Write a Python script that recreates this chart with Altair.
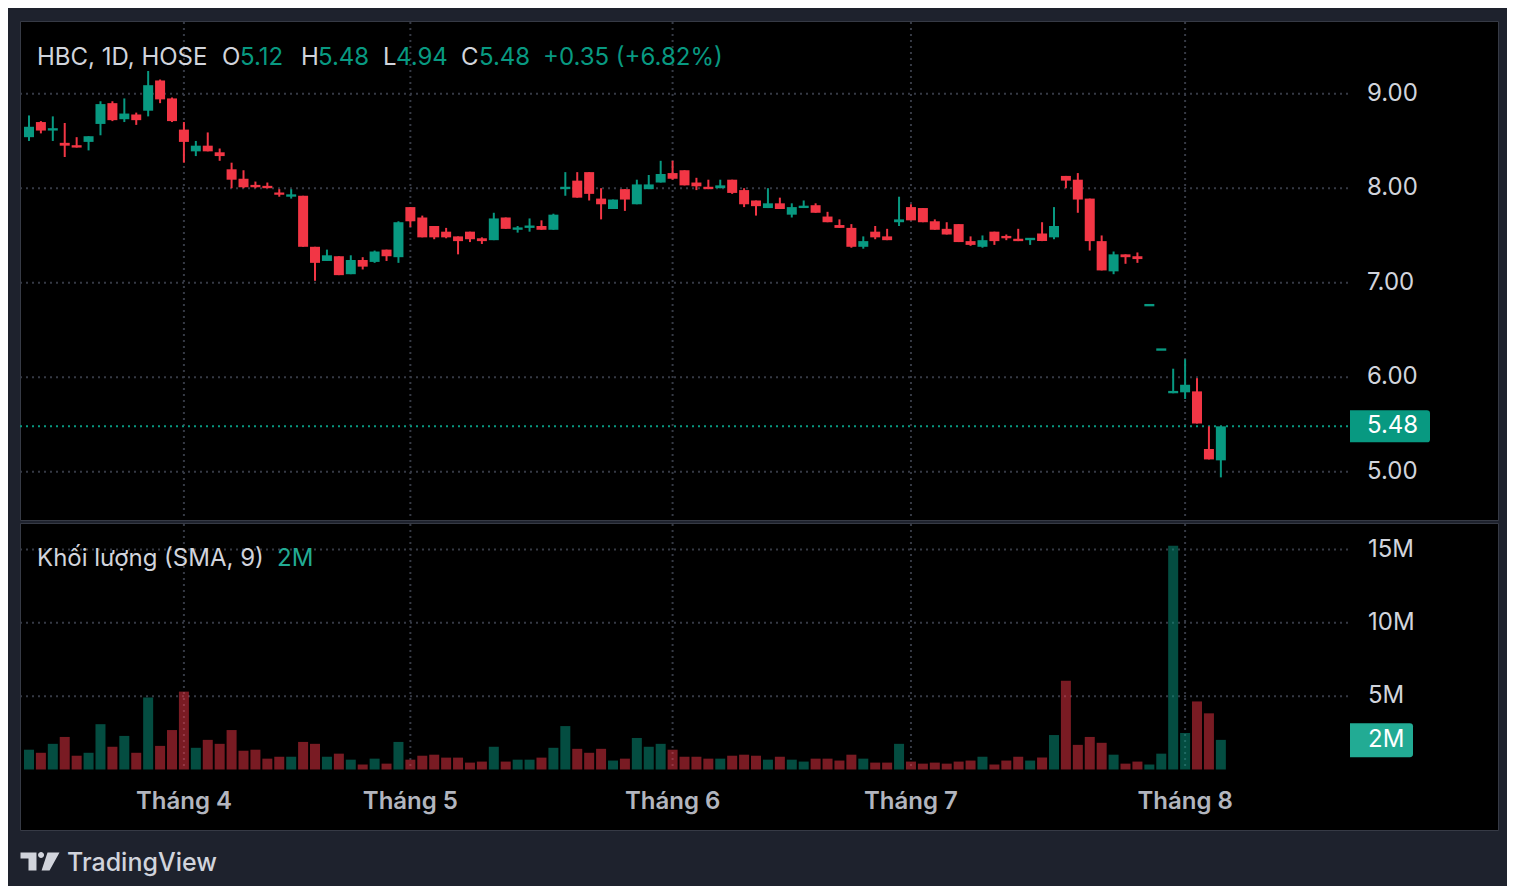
import altair as alt
import pandas as pd

# ---------------- data ----------------
opens = [8.54, 8.70, 8.61, 8.48, 8.45, 8.49, 8.68, 8.90, 8.73, 8.78,
         8.82, 9.14, 8.95, 8.62, 8.39, 8.45, 8.38, 8.20, 8.10, 8.03,
         8.02, 7.95, 7.91, 7.92, 7.38, 7.23, 7.28, 7.09, 7.24, 7.22,
         7.35, 7.27, 7.80, 7.69, 7.60, 7.54, 7.49, 7.54, 7.47, 7.45,
         7.69, 7.56, 7.58, 7.60, 7.56, 7.99, 8.08, 8.17, 7.89, 7.78,
         7.99, 7.83, 7.99, 8.06, 8.16, 8.19, 8.06, 8.01, 8.00, 8.09,
         7.98, 7.87, 7.79, 7.84, 7.72, 7.79, 7.82, 7.70, 7.61, 7.58,
         7.38, 7.54, 7.49, 7.64, 7.80, 7.79, 7.65, 7.57, 7.62, 7.44,
         7.38, 7.54, 7.49, 7.45, 7.45, 7.52, 7.48, 8.13, 8.09, 7.89,
         7.44, 7.12, 7.30, 7.28, 6.75, 6.28, 5.83, 5.84, 5.85, 5.24,
         5.12]
highs = [8.77, 8.71, 8.76, 8.69, 8.54, 8.55, 8.92, 8.92, 8.95, 8.80,
         9.24, 9.15, 8.96, 8.70, 8.50, 8.59, 8.42, 8.27, 8.19, 8.07,
         8.06, 7.99, 7.99, 7.92, 7.38, 7.35, 7.28, 7.29, 7.27, 7.34,
         7.35, 7.65, 7.80, 7.71, 7.60, 7.58, 7.49, 7.54, 7.48, 7.74,
         7.69, 7.60, 7.68, 7.66, 7.73, 8.17, 8.17, 8.17, 8.00, 7.88,
         7.99, 8.09, 8.14, 8.29, 8.29, 8.19, 8.11, 8.09, 8.09, 8.09,
         8.00, 7.87, 8.00, 7.90, 7.84, 7.87, 7.84, 7.75, 7.67, 7.62,
         7.49, 7.60, 7.57, 7.91, 7.83, 7.79, 7.67, 7.64, 7.62, 7.49,
         7.50, 7.54, 7.51, 7.57, 7.47, 7.64, 7.80, 8.13, 8.16, 7.89,
         7.50, 7.33, 7.30, 7.32, 6.75, 6.28, 6.09, 6.19, 5.99, 5.48,
         5.48]
lows = [8.50, 8.58, 8.50, 8.33, 8.43, 8.40, 8.56, 8.71, 8.70, 8.67,
        8.76, 8.90, 8.70, 8.27, 8.34, 8.39, 8.29, 8.00, 8.00, 8.00,
        8.00, 7.91, 7.89, 7.38, 7.02, 7.23, 7.08, 7.09, 7.14, 7.21,
        7.23, 7.21, 7.59, 7.48, 7.46, 7.47, 7.30, 7.43, 7.41, 7.45,
        7.57, 7.53, 7.54, 7.56, 7.56, 7.92, 7.90, 7.87, 7.67, 7.78,
        7.76, 7.83, 7.99, 8.06, 8.09, 8.03, 7.98, 7.99, 8.00, 7.94,
        7.80, 7.71, 7.79, 7.78, 7.69, 7.79, 7.74, 7.64, 7.58, 7.37,
        7.36, 7.46, 7.45, 7.60, 7.66, 7.64, 7.56, 7.51, 7.43, 7.39,
        7.37, 7.40, 7.45, 7.44, 7.40, 7.44, 7.46, 8.00, 7.74, 7.34,
        7.13, 7.09, 7.20, 7.21, 6.75, 6.28, 5.83, 5.77, 5.51, 5.13,
        4.94]
closes = [8.65, 8.61, 8.63, 8.45, 8.43, 8.55, 8.89, 8.72, 8.79, 8.72,
          9.09, 8.94, 8.71, 8.49, 8.45, 8.39, 8.34, 8.09, 8.01, 8.01,
          8.00, 7.93, 7.93, 7.38, 7.21, 7.29, 7.08, 7.24, 7.17, 7.33,
          7.28, 7.64, 7.65, 7.48, 7.48, 7.48, 7.44, 7.46, 7.44, 7.68,
          7.57, 7.58, 7.60, 7.56, 7.72, 8.01, 7.90, 7.94, 7.83, 7.88,
          7.88, 8.04, 8.04, 8.15, 8.10, 8.03, 8.02, 7.99, 8.03, 7.95,
          7.83, 7.81, 7.84, 7.78, 7.80, 7.81, 7.74, 7.64, 7.58, 7.38,
          7.44, 7.48, 7.45, 7.67, 7.66, 7.64, 7.56, 7.51, 7.43, 7.40,
          7.45, 7.44, 7.47, 7.44, 7.47, 7.44, 7.60, 8.08, 7.88, 7.44,
          7.13, 7.30, 7.27, 7.25, 6.75, 6.28, 5.85, 5.92, 5.51, 5.13,
          5.48]
volumes_m = [1.35, 1.14, 1.75, 2.22, 0.94, 1.14, 3.09, 1.55, 2.29, 1.14,
             4.91, 1.61, 2.69, 5.31, 1.48, 2.02, 1.75, 2.69, 1.28, 1.35,
             0.74, 0.87, 0.87, 1.88, 1.75, 0.87, 1.08, 0.67, 0.34, 0.74,
             0.40, 1.88, 0.67, 0.94, 1.01, 0.81, 0.81, 0.47, 0.54, 1.55,
             0.54, 0.67, 0.67, 0.81, 1.48, 2.96, 1.41, 1.14, 1.41, 0.61,
             0.74, 2.15, 1.55, 1.75, 1.35, 0.87, 0.87, 0.74, 0.74, 0.94,
             1.01, 0.94, 0.67, 0.87, 0.67, 0.54, 0.74, 0.74, 0.61, 1.01,
             0.74, 0.47, 0.47, 1.75, 0.54, 0.40, 0.47, 0.40, 0.54, 0.61,
             0.87, 0.34, 0.61, 0.87, 0.61, 0.81, 2.35, 6.05, 1.68, 2.22,
             1.82, 1.01, 0.40, 0.54, 0.34, 1.08, 15.25, 2.49, 4.64, 3.83,
             2.02]
month_idx = [13, 32, 54, 74, 97]
month_labels = ["Tháng 4", "Tháng 5", "Tháng 6", "Tháng 7", "Tháng 8"]
price_ticks = [5, 6, 7, 8, 9]
vol_ticks = [5, 10, 15]
vol_tick_labels = ["5M", "10M", "15M"]
sma_volume_m = 2.0
sma_label = "2M"
symbol = "HBC, 1D, HOSE"
vol_title = "Khối lượng (SMA, 9)"
change_abs = 0.35
change_pct = 6.82

# ---------------- styles ----------------
UP, DOWN = "#089981", "#f23645"
VUP, VDOWN = "#22ab94", "#f7525f"
GRID = "#363a45"
TXT = "#d1d4dc"
AXT = "#b2b5be"
BG = "#1e222d"
FONT = "Inter"

W = 1478      # black chart area width
HP = 499      # price pane height
HV = 307      # volume pane height
VBASE = 246.5  # pixel row of zero volume inside the volume pane

xs = alt.Scale(domain=[-4 / 12, (W - 4) / 12], nice=False, zero=False)
ys = alt.Scale(domain=[4.4889, 9.7693], nice=False, zero=False)
vs = alt.Scale(domain=[-4.125, 16.807], nice=False, zero=False)
dir_col = alt.Color("dir:N", scale=alt.Scale(domain=["up", "down"], range=[UP, DOWN]), legend=None)
vdir_col = alt.Color("dir:N", scale=alt.Scale(domain=["up", "down"], range=[VUP, VDOWN]), legend=None)

n = len(closes)
df = pd.DataFrame({"i": list(range(n)), "o": opens, "h": highs, "l": lows, "c": closes, "v": volumes_m})
df["dir"] = ["up" if c >= o else "down" for o, c in zip(opens, closes)]
df["bb"] = df[["o", "c"]].min(axis=1)
df["bt"] = [max(t, b + 0.025) for t, b in zip(df[["o", "c"]].max(axis=1), df["bb"])]

months = pd.DataFrame({"i": month_idx, "lab": month_labels})
pt = pd.DataFrame({"p": price_ticks})
vt = pd.DataFrame({"v": vol_ticks, "lab": vol_tick_labels})
last = df.iloc[[-1]].copy()


def label(text, x, y, color, size=24, weight=400, align="left"):
    return alt.Chart(pd.DataFrame({"t": [text]})).mark_text(
        align=align, baseline="middle", font=FONT, fontSize=size, fontWeight=weight, color=color
    ).encode(text="t:N", x=alt.value(x), y=alt.value(y))


# ---------------- price pane ----------------
p_hgrid = alt.Chart(pt).mark_rule(color=GRID, strokeWidth=2, strokeDash=[2, 4]).encode(
    y=alt.Y("p:Q", scale=ys, axis=None), x=alt.value(0), x2=alt.value(1328))
p_vgrid = alt.Chart(months).mark_rule(color=GRID, strokeWidth=2, strokeDash=[2, 4]).encode(
    x=alt.X("i:Q", scale=xs, axis=None), y=alt.value(1), y2=alt.value(HP))
last_line = alt.Chart(last).mark_rule(color=UP, strokeWidth=2, strokeDash=[2, 4]).encode(
    y=alt.Y("c:Q", scale=ys, axis=None), x=alt.value(0), x2=alt.value(1330))
wicks = alt.Chart(df).mark_rule(strokeWidth=2).encode(
    x=alt.X("i:Q", scale=xs, axis=None), y=alt.Y("l:Q", scale=ys, axis=None), y2="h:Q", color=dir_col)
bodies = alt.Chart(df).mark_bar(size=10).encode(
    x=alt.X("i:Q", scale=xs, axis=None), y=alt.Y("bb:Q", scale=ys, axis=None), y2="bt:Q", color=dir_col)
p_labels = alt.Chart(pt).mark_text(align="left", baseline="middle", font=FONT, fontSize=24, color=TXT).encode(
    y=alt.Y("p:Q", scale=ys, axis=None), x=alt.value(1347), text=alt.Text("p:Q", format=".2f"))
last_box = alt.Chart(last).mark_point(
    shape="M-1,-0.4L0.92,-0.4Q1,-0.4 1,-0.32L1,0.32Q1,0.4 0.92,0.4L-1,0.4Z",
    size=6400, filled=True, color=UP, opacity=1, strokeWidth=0).encode(
    y=alt.Y("c:Q", scale=ys, axis=None), x=alt.value(1370))
last_txt = alt.Chart(last).mark_text(align="left", baseline="middle", font=FONT, fontSize=24, color="#ffffff").encode(
    y=alt.Y("c:Q", scale=ys, axis=None), x=alt.value(1347), text=alt.Text("c:Q", format=".2f"))

o, h, l, c = opens[-1], highs[-1], lows[-1], closes[-1]
header = [
    label(symbol, 17, 36.5, TXT),
    label("O", 202, 36.5, TXT), label(f"{o:.2f}", 220, 36.5, UP),
    label("H", 281, 36.5, TXT), label(f"{h:.2f}", 298, 36.5, UP),
    label("L", 363, 36.5, TXT), label(f"{l:.2f}", 376, 36.5, UP),
    label("C", 441, 36.5, TXT), label(f"{c:.2f}", 459, 36.5, UP),
    label(f"+{change_abs:.2f} (+{change_pct:.2f}%)", 523, 36.5, UP),
]

price = alt.layer(p_hgrid, p_vgrid, last_line, wicks, bodies, p_labels, last_box, last_txt, *header).properties(
    width=W, height=HP)

# ---------------- volume pane ----------------
v_hgrid = alt.Chart(vt).mark_rule(color=GRID, strokeWidth=2, strokeDash=[2, 4]).encode(
    y=alt.Y("v:Q", scale=vs, axis=None), x=alt.value(0), x2=alt.value(1328))
v_vgrid = alt.Chart(months).mark_rule(color=GRID, strokeWidth=2, strokeDash=[2, 4]).encode(
    x=alt.X("i:Q", scale=xs, axis=None), y=alt.value(1), y2=alt.value(VBASE))
vbars = alt.Chart(df).mark_bar(size=10, opacity=0.5).encode(
    x=alt.X("i:Q", scale=xs, axis=None), y=alt.Y("v:Q", scale=vs, axis=None), y2=alt.datum(0), color=vdir_col)
v_labels = alt.Chart(vt).mark_text(align="left", baseline="middle", font=FONT, fontSize=24, color=TXT).encode(
    y=alt.Y("v:Q", scale=vs, axis=None), x=alt.value(1348), text="lab:N")
sma_df = pd.DataFrame({"v": [sma_volume_m], "lab": [sma_label]})
sma_box = alt.Chart(sma_df).mark_point(
    shape="M-1,-0.54L0.9,-0.54Q1,-0.54 1,-0.44L1,0.44Q1,0.54 0.9,0.54L-1,0.54Z",
    size=3969, filled=True, color=VUP, opacity=1, strokeWidth=0).encode(
    y=alt.Y("v:Q", scale=vs, axis=None), x=alt.value(1361.5))
sma_txt = alt.Chart(sma_df).mark_text(align="left", baseline="middle", font=FONT, fontSize=24, color="#ffffff").encode(
    y=alt.Y("v:Q", scale=vs, axis=None), x=alt.value(1348), text="lab:N")
m_labels = alt.Chart(months).mark_text(align="center", baseline="middle", font=FONT, fontSize=24,
                                       fontWeight=600, color=AXT).encode(
    x=alt.X("i:Q", scale=xs, axis=None), y=alt.value(278.5), text="lab:N")
logo = alt.Chart(pd.DataFrame({"t": ["logo"]})).mark_point(
    shape=("M-1,-0.46L-0.18,-0.46L-0.18,0.46L-0.59,0.46L-0.59,-0.15L-1,-0.15Z "
           "M-0.1,-0.33a0.154,0.154 0 1,0 0.308,0a0.154,0.154 0 1,0 -0.308,0Z "
           "M0.385,-0.46L1,-0.46L0.49,0.46L0.08,0.46Z"),
    size=1521, filled=True, color=TXT, opacity=1, strokeWidth=0).encode(
    x=alt.value(20), y=alt.value(338.5))
vol_extra = [
    label(vol_title, 17, 36, TXT),
    label(sma_label, 257, 36, VUP),
    label("TradingView", 47, 339.5, TXT, size=25, weight=500),
]

volume = alt.layer(v_hgrid, v_vgrid, vbars, v_labels, sma_box, sma_txt, m_labels, logo, *vol_extra).properties(
    width=W, height=HV)

chart = alt.vconcat(price, volume, spacing=0).properties(
    background=BG,
    padding={"left": 10, "top": 12, "right": 8, "bottom": 10},
).configure_view(fill="#000000", stroke="#363a45", strokeWidth=1).configure_concat(spacing=0)

chart.save("out.html", embed_options={"renderer": "svg", "actions": False})
